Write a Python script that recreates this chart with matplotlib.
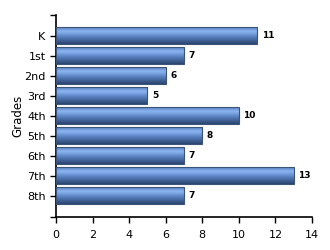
import matplotlib.pyplot as plt
import numpy as np
from matplotlib.colors import LinearSegmentedColormap

grades = ['K', '1st', '2nd', '3rd', '4th', '5th', '6th', '7th', '8th']
counts = [11, 7, 6, 5, 10, 8, 7, 13, 7]

# bar shading: top edge -> highlight -> dark bottom
shade = LinearSegmentedColormap.from_list(
    'shade', [(0.0, '#5a80c0'), (0.25, '#8cb6f2'), (0.55, '#5b84c4'), (1.0, '#2a446e')])

fig = plt.figure(figsize=(3.3, 2.5), dpi=100)
ax = fig.add_axes([56/330, 33/250, 256/330, 202/250])

y = np.arange(len(grades))
h = 0.85
bars = ax.barh(y, counts, height=h, color='none', edgecolor='#3c5478', linewidth=0.8, zorder=3)

grad = np.linspace(0, 1, 64).reshape(-1, 1)
for b, v in zip(bars, counts):
    x0, y0 = b.get_x(), b.get_y()
    im = ax.imshow(grad, cmap=shade, aspect='auto', extent=(x0, x0 + v, y0 + h, y0),
                   origin='upper', zorder=2, interpolation='bilinear')
    im.set_clip_path(b)
    ax.text(v + 0.25, y0 + h / 2, str(v), va='center', ha='left',
            fontsize=6.5, fontweight='bold', zorder=4)

ax.set_xlim(0, 14)
ax.set_ylim(len(grades) - 1 + 1.05, -1.05)
ax.set_xticks(range(0, 15, 2))
ax.set_yticks([-1.05] + list(y) + [len(grades) - 1 + 1.05])
ax.set_yticklabels([''] + grades + [''])
ax.tick_params(labelsize=8, length=4, width=1, direction='out')
ax.tick_params(axis='x', pad=5)
for s in ['top', 'right']:
    ax.spines[s].set_visible(False)
for s in ['left', 'bottom']:
    ax.spines[s].set_linewidth(1.2)
ax.set_ylabel('Grades', fontsize=8.5)
ax.yaxis.set_label_coords(-0.125, 0.5)

fig.savefig('out.png', dpi=100)
